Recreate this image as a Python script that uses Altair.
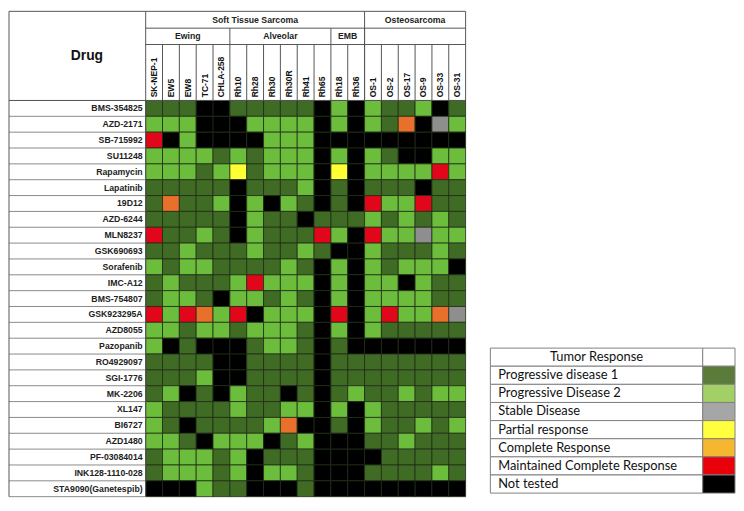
import altair as alt
import pandas as pd

# ---------------- data ----------------
cell_lines = ["SK-NEP-1", "EW5", "EW8", "TC-71", "CHLA-258",
              "Rh10", "Rh28", "Rh30", "Rh30R", "Rh41", "Rh65",
              "Rh18", "Rh36",
              "OS-1", "OS-2", "OS-17", "OS-9", "OS-33", "OS-31"]

tumor_groups = ["Soft Tissue Sarcoma", "Osteosarcoma"]
tumor_group_span = [(0, 13), (13, 19)]
subtypes = ["Ewing", "Alveolar", "EMB", ""]
subtype_span = [(0, 5), (5, 11), (11, 13), (13, 19)]

drugs = ["BMS-354825", "AZD-2171", "SB-715992", "SU11248", "Rapamycin",
         "Lapatinib", "19D12", "AZD-6244", "MLN8237", "GSK690693",
         "Sorafenib", "IMC-A12", "BMS-754807", "GSK923295A", "AZD8055",
         "Pazopanib", "RO4929097", "SGI-1776", "MK-2206", "XL147",
         "BI6727", "AZD1480", "PF-03084014", "INK128-1110-028",
         "STA9090(Ganetespib)"]

# D=PD1, L=PD2, G=stable, Y=partial, O=complete, R=maintained CR, K=not tested
responses = [
    "DDDKKDDDDDKLKLDDLKD",
    "LLLKKKLLLLKLKLDOKGL",
    "RKLKKKKLLLKKKKKKKKK",
    "LLLLDLDLLLKLKLDKKLL",
    "LLLDLYDLLLKYKLLLLRL",
    "DDDDDKDDDLKDKDDDKDD",
    "DODDLKLKLDKDKRLLRDD",
    "DDDDDKLDDKDDDLDLDLD",
    "RDDLDKLDDDRLKRLLGLL",
    "DDLDDDLDDLDKKLDDDLD",
    "LDLLDDDDLDKLKLDLLLK",
    "DLDDDLRLLLKLKLLKLDD",
    "DLLDKLLDLDKLKLLLLDD",
    "RLROLRKLLLKRKLRLLOG",
    "LLDLLDLLLDKLKLDDDDD",
    "LKDKKKDLLDKDKKKKKKK",
    "DDDDKKDDDDKDDDDDDDD",
    "DDDLKKDDDDKDDDDDDDD",
    "DLKDKLDDKDKDLDDLDLL",
    "LDDDDLDDLLKLKLDDDDD",
    "LDKDDDDLOKKDKLDDLDL",
    "LLDKLLLKDLKKKDDLDDD",
    "DLLLDLKDDDKKKKDDDDD",
    "DLLLDLKLLDKKKDDDDLD",
    "KKKLDDKKKDKKKKKKKKK",
]

codes = ["D", "L", "G", "Y", "O", "R", "K"]
legend_labels = ["Progressive disease 1", "Progressive Disease 2", "Stable Disease",
                 "Partial response", "Complete Response",
                 "Maintained Complete Response", "Not tested"]
cell_colors = ["#3f6b24", "#6dbd3c", "#8e8e8e", "#ffff33", "#e8702a", "#e2061a", "#000000"]
legend_colors = ["#5b7b3a", "#a2cf66", "#a6a6a6", "#ffff40", "#f4b72f", "#e8000b", "#000000"]
legend_title = "Tumor Response"

# ---------------- layout constants ----------------
COLW, ROWH = 17.0, 16.0
LAB = 138.0 / COLW                      # label column, in column units
H1, H2, H3 = 17.0 / ROWH, 16.5 / ROWH, 56.5 / ROWH
HTOP = H1 + H2 + H3
NCOL, NROW = len(cell_lines), len(drugs)
W = (LAB + NCOL) * COLW
H = (HTOP + NROW) * ROWH

xs = alt.Scale(domain=[-LAB, NCOL], nice=False, zero=False)
ys = alt.Scale(domain=[-HTOP, NROW], nice=False, zero=False, reverse=True)


def X(f):
    return alt.X(f, type="quantitative", scale=xs, axis=None)


def Y(f):
    return alt.Y(f, type="quantitative", scale=ys, axis=None)


# cells
cells = []
for i, (d, row) in enumerate(zip(drugs, responses)):
    for j, ch in enumerate(row):
        cells.append({"drug": d, "line": cell_lines[j], "c": j, "c2": j + 1,
                      "r": i, "r2": i + 1, "resp": ch})
cells = pd.DataFrame(cells)

heat = alt.Chart(cells).mark_rect(stroke="#1d2b14", strokeWidth=0.8).encode(
    x=X("c"), x2="c2", y=Y("r"), y2="r2",
    color=alt.Color("resp:N", scale=alt.Scale(domain=codes, range=cell_colors), legend=None),
)

# frame lines of the table
segs = []
gray = "#8a8a8a"
dark = "#555555"
for b in range(NROW + 1):
    segs.append({"x": -LAB, "x2": 0, "y": b, "y2": b, "s": gray})
segs.append({"x": -LAB, "x2": NCOL, "y": -HTOP, "y2": -HTOP, "s": dark})
segs.append({"x": 0, "x2": NCOL, "y": -HTOP + H1, "y2": -HTOP + H1, "s": dark})
segs.append({"x": 0, "x2": NCOL, "y": -H3, "y2": -H3, "s": dark})
segs.append({"x": -LAB, "x2": NCOL, "y": 0, "y2": 0, "s": dark})
segs.append({"x": -LAB, "x2": -LAB, "y": -HTOP, "y2": NROW, "s": dark})
segs.append({"x": 0, "x2": 0, "y": -HTOP, "y2": NROW, "s": dark})
segs.append({"x": NCOL, "x2": NCOL, "y": -HTOP, "y2": 0, "s": dark})
for j in range(1, NCOL):
    segs.append({"x": j, "x2": j, "y": -H3, "y2": 0, "s": dark})
for (a, b) in subtype_span[1:]:
    segs.append({"x": a, "x2": a, "y": -HTOP + H1, "y2": -H3, "s": dark})
for (a, b) in tumor_group_span[1:]:
    segs.append({"x": a, "x2": a, "y": -HTOP, "y2": 0, "s": dark})
segs = pd.DataFrame(segs)

frame = alt.Chart(segs).mark_rule(strokeWidth=1).encode(
    x=X("x"), x2="x2", y=Y("y"), y2="y2",
    color=alt.Color("s:N", scale=None),
)

# drug labels
drug_df = pd.DataFrame({"drug": drugs, "r": [i + 0.5 for i in range(NROW)], "x": -0.18})
drug_text = alt.Chart(drug_df).mark_text(
    align="right", baseline="middle", font="Liberation Sans", fontWeight="bold",
    fontSize=8.8, color="#222222").encode(x=X("x"), y=Y("r"), text="drug:N")

# column labels
col_df = pd.DataFrame({"line": cell_lines, "c": [j + 0.5 for j in range(NCOL)], "y": -0.2})
col_text = alt.Chart(col_df).mark_text(
    align="left", baseline="middle", angle=270, font="Liberation Sans",
    fontWeight="bold", fontSize=8.6, color="#111111").encode(
    x=X("c"), y=Y("y"), text="line:N")

# group headers
grp_df = pd.DataFrame({
    "label": tumor_groups + subtypes,
    "c": [(a + b) / 2 for a, b in tumor_group_span] + [(a + b) / 2 for a, b in subtype_span],
    "y": [-HTOP + H1 / 2] * len(tumor_groups) + [-HTOP + H1 + H2 / 2] * len(subtypes),
})
grp_text = alt.Chart(grp_df).mark_text(
    align="center", baseline="middle", font="Liberation Sans", fontWeight="bold",
    fontSize=8.8, color="#222222").encode(x=X("c"), y=Y("y"), text="label:N")

drug_head = alt.Chart(pd.DataFrame({"t": ["Drug"], "x": [-LAB * 0.43], "y": [-HTOP / 2]})).mark_text(
    align="center", baseline="middle", font="Liberation Sans", fontWeight="bold",
    fontSize=14, color="#111111").encode(x=X("x"), y=Y("y"), text="t:N")

main = alt.layer(heat, frame, drug_text, col_text, grp_text, drug_head).properties(
    width=W, height=H)

# ---------------- legend table ----------------
LROW = 18.3
LTOP = 340.0 / LROW
LW = 247.0
SPLIT = 0.868
NL = len(legend_labels) + 1
lxs = alt.Scale(domain=[0, 1], nice=False, zero=False)
lys = alt.Scale(domain=[-LTOP, NL], nice=False, zero=False, reverse=True)

leg_df = pd.DataFrame({
    "label": [legend_title] + legend_labels,
    "fill": ["#ffffff"] + legend_colors,
    "r": list(range(NL)),
    "r2": [i + 1 for i in range(NL)],
    "rm": [i + 0.5 for i in range(NL)],
    "x0": 0.0, "xs": SPLIT, "x1": 1.0,
    "tx": [SPLIT / 2] + [0.032] * len(legend_labels),
})


def LX(f):
    return alt.X(f, type="quantitative", scale=lxs, axis=None)


def LY(f):
    return alt.Y(f, type="quantitative", scale=lys, axis=None)


leg_cells = alt.Chart(leg_df).mark_rect(fill="#ffffff", stroke="#7f7f7f", strokeWidth=1).encode(
    x=LX("x0"), x2="xs", y=LY("r"), y2="r2")
leg_sw = alt.Chart(leg_df).mark_rect(stroke="#7f7f7f", strokeWidth=1).encode(
    x=LX("xs"), x2="x1", y=LY("r"), y2="r2", fill=alt.Fill("fill:N", scale=None))
leg_head = alt.Chart(leg_df.iloc[:1]).mark_text(
    align="center", baseline="middle", font="Lato", fontSize=13, color="#111111").encode(
    x=LX("tx"), y=LY("rm"), text="label:N")
leg_txt = alt.Chart(leg_df.iloc[1:]).mark_text(
    align="left", baseline="middle", font="Lato", fontSize=13, color="#111111").encode(
    x=LX("tx"), y=LY("rm"), text="label:N")

legend = alt.layer(leg_cells, leg_sw, leg_head, leg_txt).properties(
    width=LW, height=(LTOP + NL) * LROW)

chart = alt.hconcat(main, legend, spacing=23).properties(padding=0).configure_view(stroke=None)

chart.save("out.html", embed_options={"renderer": "svg", "actions": False})
